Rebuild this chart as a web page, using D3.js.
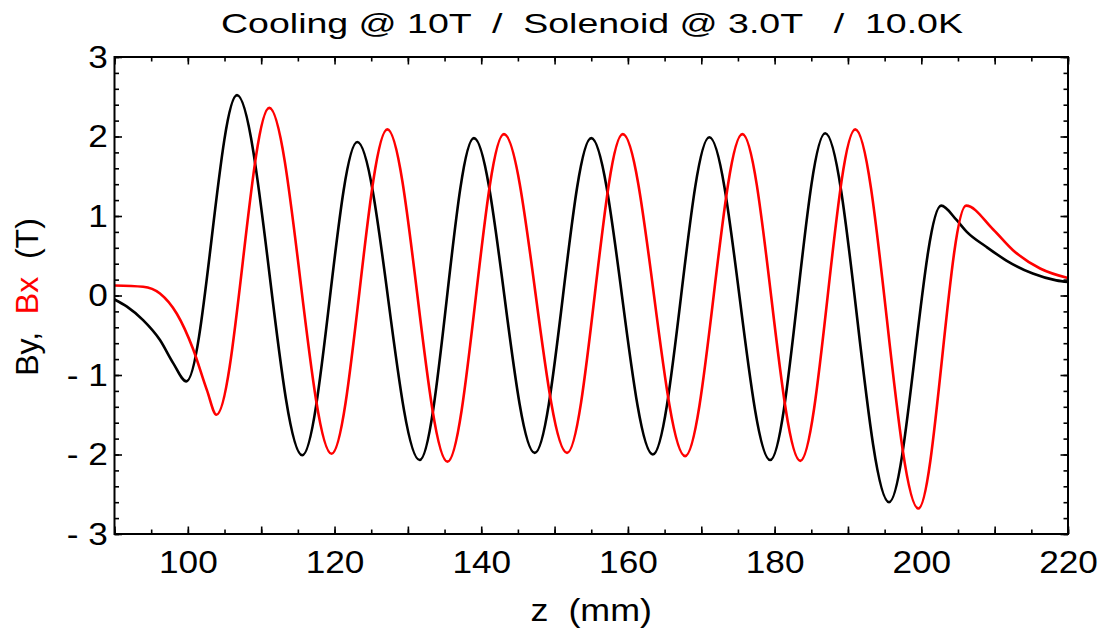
<!DOCTYPE html>
<html>
<head>
<meta charset="utf-8">
<script src="https://cdn.jsdelivr.net/npm/d3@7"></script>
<style>
  body { margin: 0; background: #fff; }
  text { font-family: "Liberation Sans", Arial, sans-serif; }
</style>
</head>
<body>
<div id="graph"></div>
<script>
// chart size + plot box
let w = 1103;
let h = 638;
let margin = {left: 114.5, right: 35, top: 57, bottom: 104};
let iw = w - margin.left - margin.right;
let ih = h - margin.top - margin.bottom;

// data: z (mm) and field (T)
let byZ = [90, 91.7, 93.9, 96.2, 98.0, 99.8, 106.7, 115.6, 123.1, 131.6, 139.0, 147.3, 155.0, 163.4, 171.1, 179.4, 186.9, 195.6, 202.7, 204.8, 206.2, 208.9, 211.6, 215.2, 218.4, 220];
let byB = [-0.05, -0.14, -0.31, -0.56, -0.85, -1.08, 2.52, -2.01, 1.93, -2.07, 1.98, -1.98, 1.98, -2.0, 1.99, -2.07, 2.04, -2.60, 1.13, 0.95, 0.80, 0.61, 0.44, 0.276, 0.19, 0.17];

let bxZ = [90, 93.9, 96.2, 98.5, 100.7, 102.6, 103.9, 111.1, 119.6, 127.2, 135.4, 143.1, 151.7, 159.3, 167.8, 175.6, 183.5, 191.0, 199.6, 206.1, 209.8, 212.5, 216.2, 220];
let bxB = [0.126, 0.11, 0.025, -0.23, -0.67, -1.19, -1.50, 2.36, -1.99, 2.09, -2.09, 2.03, -1.98, 2.03, -2.02, 2.03, -2.08, 2.09, -2.68, 1.13, 0.83, 0.57, 0.34, 0.22];

let xMajor = [90, 100, 110, 120, 130, 140, 150, 160, 170, 180, 190, 200, 210, 220];
let xLabels = [100, 120, 140, 160, 180, 200, 220];
let yMajor = [-3, -2, -1, 0, 1, 2, 3];

let svg = d3.select("#graph")
              .append("svg")
                .attr("width", w)
                .attr("height", h);

let g = svg.append("g")
             .attr("transform", "translate(" + margin.left + "," + margin.top + ")");

let x = d3.scaleLinear().domain([90, 220]).range([0, iw]);
let y = d3.scaleLinear().domain([-3, 3]).range([ih, 0]);

let xMinor = d3.range(90, 221, 5);
let yMinor = d3.range(-30, 31, 2).map(d => d / 10);

function fmt(d) {
  if (d < 0) return "- " + Math.abs(d);
  return "" + d;
}

// minor ticks, all four sides, pointing in
g.append("g").attr("class", "minor").attr("transform", "translate(0," + ih + ")")
  .call(d3.axisBottom(x).tickValues(xMinor).tickSize(-4.5).tickFormat(""));
g.append("g").attr("class", "minor")
  .call(d3.axisTop(x).tickValues(xMinor).tickSize(-4.5).tickFormat(""));
g.append("g").attr("class", "minor")
  .call(d3.axisLeft(y).tickValues(yMinor).tickSize(-4.5).tickFormat(""));
g.append("g").attr("class", "minor").attr("transform", "translate(" + iw + ",0)")
  .call(d3.axisRight(y).tickValues(yMinor).tickSize(-4.5).tickFormat(""));

// major ticks + labels
g.append("g").attr("class", "major").attr("transform", "translate(0," + ih + ")")
  .call(d3.axisBottom(x).tickValues(xMajor).tickSize(-7.5).tickPadding(16)
          .tickFormat(d => xLabels.indexOf(d) >= 0 ? d : ""));
g.append("g").attr("class", "major")
  .call(d3.axisTop(x).tickValues(xMajor).tickSize(-7.5).tickFormat(""));
g.append("g").attr("class", "major")
  .call(d3.axisLeft(y).tickValues(yMajor).tickSize(-7.5).tickPadding(6).tickFormat(fmt));
g.append("g").attr("class", "major").attr("transform", "translate(" + iw + ",0)")
  .call(d3.axisRight(y).tickValues(yMajor).tickSize(-7.5).tickFormat(""));

g.selectAll(".domain").remove();
g.selectAll(".tick line").attr("stroke", "#000").attr("stroke-width", 1.6);
g.selectAll(".tick text")
   .attr("font-size", 32)
   .attr("fill", "#000")
   .attr("transform", "scale(1.1,1)")
   .style("white-space", "pre");

// the curves
let line = d3.line()
               .x(d => x(d[0]))
               .y(d => y(d[1]))
               .curve(d3.curveMonotoneX);

g.append("path")
   .datum(byZ.map((z, i) => [z, byB[i]]))
   .attr("d", line)
   .attr("fill", "none")
   .attr("stroke", "#000")
   .attr("stroke-width", 2.6);

g.append("path")
   .datum(bxZ.map((z, i) => [z, bxB[i]]))
   .attr("d", line)
   .attr("fill", "none")
   .attr("stroke", "#ff0000")
   .attr("stroke-width", 2.6);

// frame
g.append("rect")
   .attr("width", iw)
   .attr("height", ih)
   .attr("fill", "none")
   .attr("stroke", "#000")
   .attr("stroke-width", 2);

// title
svg.append("text")
   .attr("x", 592)
   .attr("y", 33)
   .attr("text-anchor", "middle")
   .attr("font-size", 28)
   .attr("textLength", 742)
   .attr("lengthAdjust", "spacingAndGlyphs")
   .style("white-space", "pre")
   .text("Cooling @ 10T  /  Solenoid @ 3.0T   /  10.0K");

// axis titles
svg.append("text")
   .attr("transform", "translate(" + (margin.left + iw / 2) + ",621) scale(1.12,1)")
   .attr("text-anchor", "middle")
   .attr("font-size", 32)
   .style("white-space", "pre")
   .text("z  (mm)");

let yl = svg.append("text")
   .attr("transform", "translate(38,297) rotate(-90)")
   .attr("text-anchor", "middle")
   .attr("font-size", 32)
   .style("white-space", "pre");
yl.append("tspan").text("By,  ");
yl.append("tspan").attr("fill", "#ff0000").text("Bx");
yl.append("tspan").text("  (T)");
</script>
</body>
</html>
